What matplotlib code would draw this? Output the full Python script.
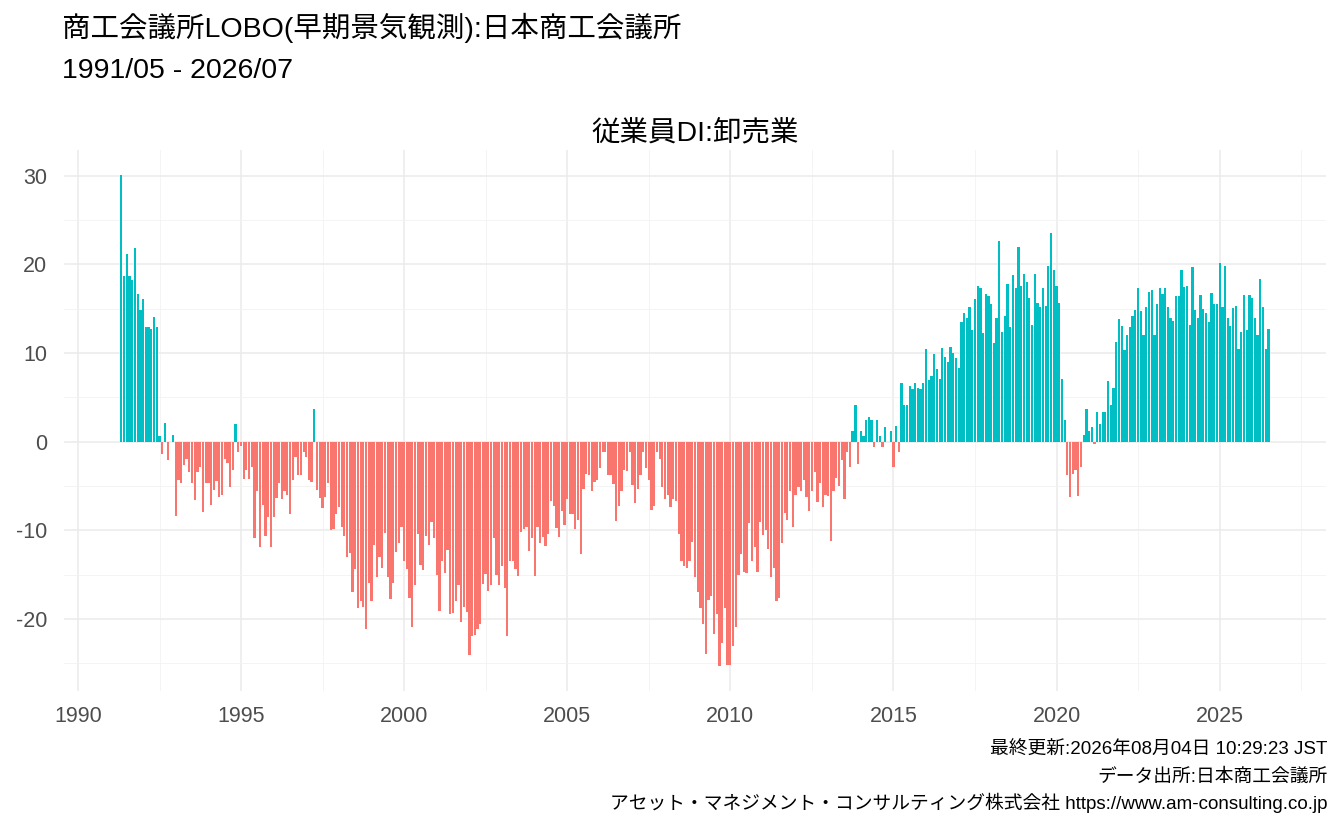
import numpy as np
import pandas as pd
import matplotlib
matplotlib.use("Agg")
import matplotlib.pyplot as plt

plt.rcParams['font.family'] = ['Liberation Sans', 'Noto Sans CJK JP', 'DejaVu Sans']
plt.rcParams['axes.unicode_minus'] = False

# monthly DI, starting 1991/05
start_month = "1991-05-01"
di_values = [
    30.1, 18.7, 21.2, 18.7, 18.2, 21.8, 16.7, 14.9, 16.1, 12.9, 12.9, 12.7, 14.1, 12.9,
    0.7, -1.4, 2.1, -2.1, 0.0, 0.8,
    -8.4, -4.3, -4.6, -2.6, -1.9, -3.4, -4.7, -6.6, -3.4, -2.8, -7.9, -4.6, -4.6, -7.1,
    -5.4, -4.4, -6.2, -6.0, -1.9, -2.4, -5.1,
    -3.2, 2.0, -1.1, -0.5, -4.2, -3.2, -4.2, -2.9, -10.8, -5.6, -11.9, -7.1, -10.6, -8.5,
    -11.9, -8.5, -6.3, -4.6, -6.4, -5.5, -6.0, -8.2, -4.3, -1.7, -3.8, -3.8, -1.1, -1.7,
    -4.3, -4.5, 3.7, -5.4, -6.3, -7.5, -6.2, -4.7, -10.0, -9.8, -8.1, -7.3, -9.6, -10.6,
    -13.0, -12.5, -16.9, -14.3, -18.7, -18.0, -18.6, -21.1, -15.9, -17.9, -11.6, -15.2,
    -13.0, -14.2, -10.3, -15.3, -17.7, -15.9, -12.4, -11.4, -9.6, -13.4, -14.4, -17.6,
    -20.9, -16.2, -10.4, -13.9, -14.5, -10.6, -11.6, -9.1, -10.8, -15.0, -19.1, -13.5,
    -14.8, -12.2, -19.4, -19.3, -18.0, -16.2,
    -20.3, -18.6, -19.2, -24.1, -21.9, -21.8, -21.1, -20.5, -16.0, -14.9, -16.8, -16.2,
    -10.9, -15.0, -16.1, -14.0, -16.5, -21.9, -13.5, -13.4, -14.4, -15.1, -10.2, -9.8,
    -9.6, -12.3, -10.9, -15.1, -9.6, -11.4, -10.7, -11.8, -10.4, -6.7, -7.2, -9.7,
    -10.7, -7.8, -9.4, -6.5, -8.1, -8.1,
    -9.8, -8.8, -12.7, -5.3, -3.6, -3.7, -5.6, -4.5, -4.3, -3.0, -1.2, -1.2, -3.7, -3.7,
    -4.8, -8.9, -7.2, -5.6, -3.2, -3.3, -1.2, -4.9, -6.9, -5.3, -3.7, -1.1, -3.0, -4.3,
    -7.7, -7.2, -1.2, -1.9, -5.1, -6.5, -6.0, -7.3, -6.5, -6.7, -10.4, -13.4, -14.0,
    -14.2, -13.4, -11.3, -15.2, -16.9, -18.7, -20.6, -23.9, -17.8, -17.4, -21.7, -19.4,
    -25.3, -22.7, -18.7, -25.2, -25.2, -23.0, -20.9, -15.0, -12.7, -14.7, -14.8, -9.2,
    -13.4, -11.9, -14.7, -9.0, -10.5, -9.9, -12.1, -15.2, -14.2, -18.0, -17.6, -11.4,
    -8.0, -8.8, -5.6, -9.6, -6.0, -5.1, -5.5, -4.3,
    -6.2, -7.8, -5.6, -3.4, -6.8, -4.6, -7.3, -6.0, -6.1, -11.2, -5.5, -4.1, -5.0, -2.1,
    -6.4, -1.1, -2.9, 1.2, 4.2, -2.5, 1.2, 0.6, 2.4, 2.8, 2.4, -0.6, 2.5, 0.6, -0.6, 1.7,
    0.0, 1.2, -2.9, 1.8, -1.2, 6.6, 4.2, 4.1, 6.3, 5.9,
    6.65, 6.1, 6.0, 6.65, 10.5, 7.0, 7.4, 9.9, 8.2, 7.1, 10.6, 9.6, 9.0, 10.7, 10.0, 9.5,
    8.3, 13.5, 14.5, 13.9, 15.2, 12.6, 16.1, 17.6, 17.3, 12.3, 16.7, 16.4, 15.5, 11.1,
    14.0, 22.6, 12.4, 14.2, 17.8, 12.9, 18.8, 17.3, 22.0, 17.6, 18.9, 18.0, 16.2, 13.2,
    18.9, 15.7, 15.2, 17.3, 15.3, 19.8, 23.5, 19.4, 17.6, 15.6, 7.1, 2.4, -3.8, -6.2,
    -3.6, -3.2, -6.1, -2.8, 0.8, 3.7, 1.2, 1.7, -0.3, 3.3, 2.0, 3.3, 3.3, 6.8, 4.2, 6.1,
    11.3, 13.8, 13.0, 10.3, 12.0, 12.9, 14.2, 14.9, 17.3, 14.8, 12.0, 15.2, 16.9,
    17.1, 12.0, 15.5, 17.3, 16.7, 17.3, 15.2, 13.9, 13.6, 16.4, 16.4, 19.4, 17.4, 17.6,
    13.2, 19.7, 14.9, 13.9, 16.5, 15.0, 14.5, 13.5, 16.8, 15.5, 15.5, 20.2, 15.2, 19.8,
    14.0, 13.1, 15.1, 15.3, 10.5, 12.4, 16.5, 12.6, 16.5, 16.2, 13.9, 12.0, 18.3, 15.2,
    10.5, 12.7,
]

title_main = "商工会議所LOBO(早期景気観測):日本商工会議所"
title_period = "1991/05 - 2026/07"
plot_title = "従業員DI:卸売業"
caption_lines = [
    "最終更新:2026年08月04日 10:29:23 JST",
    "データ出所:日本商工会議所",
    "アセット・マネジメント・コンサルティング株式会社 https://www.am-consulting.co.jp",
]
x_ticks = [1990, 1995, 2000, 2005, 2010, 2015, 2020, 2025]
y_ticks = [-20, -10, 0, 10, 20, 30]

dates = pd.date_range(start_month, periods=len(di_values), freq="MS")
xpos = dates.year + (dates.dayofyear - 1) / 365.25
vals = np.array(di_values)
colors = np.where(vals >= 0, "#00BFC4", "#F8766D")

fig = plt.figure(figsize=(13.44, 8.3), dpi=100)
ax = fig.add_axes([0.0476, 0.1675, 0.9390, 0.6518])

ax.bar(xpos, vals, width=0.069, color=colors, linewidth=0, zorder=3)

ax.set_xlim(1989.57, 2028.26)
ax.set_ylim(-28.1, 32.9)
ax.set_xticks(x_ticks)
ax.set_yticks(y_ticks)
ax.set_xticks([t + 2.5 for t in x_ticks[:-1]] + [2027.5], minor=True)
ax.set_yticks([-25, -15, -5, 5, 15, 25], minor=True)
ax.grid(which="major", color="#EBEBEB", linewidth=1.1, zorder=0)
ax.grid(which="minor", color="#F2F2F2", linewidth=0.6, zorder=0)
for s in ax.spines.values():
    s.set_visible(False)
ax.tick_params(which="both", length=0)
ax.tick_params(axis="y", labelsize=15.5, labelcolor="#4D4D4D", pad=12)
ax.tick_params(axis="x", labelsize=15.5, labelcolor="#4D4D4D", pad=11)
ax.set_title(plot_title, fontsize=20.5, pad=7)

fig.text(0.046, 0.966, title_main, fontsize=20.5, ha="left", va="center")
fig.text(0.046, 0.915, title_period, fontsize=20.5, ha="left", va="center")

cap_y = [0.096, 0.064, 0.033]
for line, yy in zip(caption_lines, cap_y):
    fig.text(0.988, yy, line, fontsize=13.5, ha="right", va="center")

fig.savefig("out.png", dpi=100)
